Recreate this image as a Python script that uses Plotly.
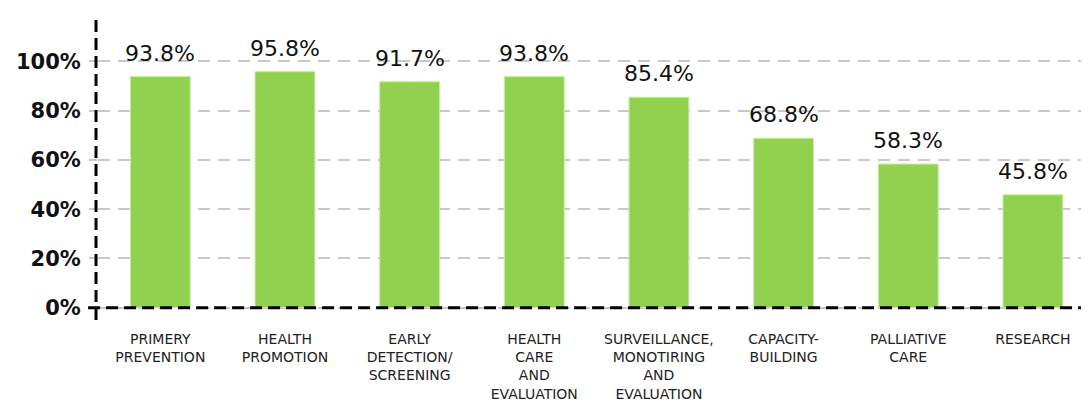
import plotly.graph_objects as go

categories = [
    "PRIMERY<br>PREVENTION",
    "HEALTH<br>PROMOTION",
    "EARLY<br>DETECTION/<br>SCREENING",
    "HEALTH<br>CARE<br>AND<br>EVALUATION",
    "SURVEILLANCE,<br>MONOTIRING<br>AND<br>EVALUATION",
    "CAPACITY-<br>BUILDING",
    "PALLIATIVE<br>CARE",
    "RESEARCH",
]
values = [93.8, 95.8, 91.7, 93.8, 85.4, 68.8, 58.3, 45.8]
y_ticks = [0, 20, 40, 60, 80, 100]
y_tick_labels = ["0%", "20%", "40%", "60%", "80%", "100%"]

x_pos = list(range(len(categories)))

fig = go.Figure()
fig.add_trace(go.Bar(
    x=x_pos,
    y=values,
    width=0.48,
    marker=dict(color="#92d050", line=dict(color="#c9e9ab", width=1)),
    hoverinfo="skip",
))

# value labels above each bar
for xv, v in zip(x_pos, values):
    fig.add_annotation(
        x=xv, y=v, text=f"{v:.1f}%", showarrow=False,
        yanchor="bottom", yshift=9,
        font=dict(family="DejaVu Sans", size=22, color="#111"),
    )

# dashed black axis lines
fig.add_shape(type="line", xref="paper", yref="paper", x0=-0.002, x1=-0.002, y0=0, y1=1,
              line=dict(color="black", width=3, dash="12px,6px"))
fig.add_shape(type="line", xref="paper", yref="y", x0=-0.01, x1=1, y0=0, y1=0,
              line=dict(color="black", width=3, dash="12px,6px"))

fig.update_layout(
    width=1089, height=406,
    margin=dict(l=90, r=8, t=9, b=94),
    paper_bgcolor="white", plot_bgcolor="white",
    showlegend=False,
    xaxis=dict(
        range=[-0.5, 7.45], automargin=False,
        tickmode="array", tickvals=x_pos, ticktext=categories,
        tickfont=dict(family="DejaVu Sans", size=14, color="#222"),
        ticklabelstandoff=9,
        showgrid=False, zeroline=False, showline=False, ticks="",
    ),
    yaxis=dict(
        range=[-5, 118], automargin=False,
        tickmode="array", tickvals=y_ticks, ticktext=y_tick_labels,
        tickfont=dict(family="DejaVu Sans", size=21, color="#111", weight="bold"),
        ticklabelstandoff=4,
        showgrid=True, gridcolor="#c8c8c8", gridwidth=1.5, griddash="12px,8px",
        ticks="outside", ticklen=8, tickcolor="#c8c8c8", tickwidth=1.5,
        zeroline=False, showline=False,
    ),
)

fig.write_html("out.html")
